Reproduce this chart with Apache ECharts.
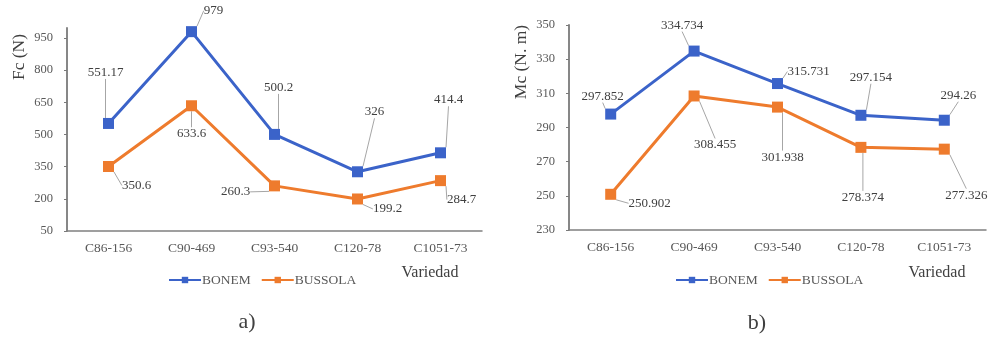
<!DOCTYPE html>
<html>
<head>
<meta charset="utf-8">
<script src="https://cdn.jsdelivr.net/npm/echarts@6/dist/echarts.min.js"></script>
<style>
  html, body { margin: 0; padding: 0; background: #fff; }
  #chart { width: 989px; height: 341px; }
</style>
</head>
<body>
<div id="chart"></div>
<script>
// Varieties on the horizontal axis of both panels
const varieties = ['C86-156', 'C90-469', 'C93-540', 'C120-78', 'C1051-73'];

// Panel a) cutting force Fc (N)
const fcBonem   = [551.17, 979, 500.2, 326, 414.4];
const fcBussola = [350.6, 633.6, 260.3, 199.2, 284.7];

// Panel b) cutting torque Mc (N. m)
const mcBonem   = [297.852, 334.734, 315.731, 297.154, 294.26];
const mcBussola = [250.902, 308.455, 301.938, 278.374, 277.326];

const seriesNames = ['BONEM', 'BUSSOLA'];

// Callout offsets of each value label from its marker (px)
const fcBonemOff   = [[-3, -51], [22, -21], [4, -47], [17, -60], [8, -53]];
const fcBussolaOff = [[28, 19], [0, 28], [-39, 6], [30, 10], [21, 19]];
const mcBonemOff   = [[-8, -18], [-12, -26], [31, -12], [10, -38], [14, -25]];
const mcBussolaOff = [[39, 9], [21, 49], [5, 50], [2, 50], [22, 46]];

const BLUE = '#3b63c9';
const ORANGE = '#ee7b2d';
const SERIF = '"Liberation Serif", "DejaVu Serif", serif';

const chart = echarts.init(document.getElementById('chart'));

function xAxisFor(gridIndex) {
  return {
    type: 'category',
    gridIndex,
    data: varieties,
    boundaryGap: true,
    axisLine: { lineStyle: { color: '#808080', width: 1.5 } },
    axisTick: { alignWithLabel: true, length: 3, lineStyle: { color: '#808080' } },
    axisLabel: { fontFamily: SERIF, fontSize: 13.5, color: '#595959', margin: 10 },
    splitLine: { show: false }
  };
}

function yAxisFor(gridIndex, min, max, interval) {
  return {
    type: 'value',
    gridIndex,
    min, max, interval,
    axisLine: { show: true, lineStyle: { color: '#7a7a7a', width: 1.8 } },
    axisTick: { show: true, length: 3, lineStyle: { color: '#7a7a7a' } },
    axisLabel: {
      fontFamily: SERIF, fontSize: 12.5, color: '#595959', margin: 14,
      showMaxLabel: max % interval === min % interval
    },
    splitLine: { show: false }
  };
}

function lineSeries(name, values, color, offsets, axisIndex) {
  return {
    name,
    type: 'line',
    xAxisIndex: axisIndex,
    yAxisIndex: axisIndex,
    data: values,
    symbol: 'rect',
    symbolSize: 11,
    lineStyle: { color, width: 3 },
    itemStyle: { color },
    label: {
      show: true,
      position: 'inside',
      fontFamily: SERIF,
      fontSize: 13,
      color: '#404040',
      formatter: p => String(p.value)
    },
    labelLine: { show: true, lineStyle: { color: '#a6a6a6', width: 1 } },
    labelLayout: p => ({ dx: offsets[p.dataIndex][0], dy: offsets[p.dataIndex][1] }),
    emphasis: { disabled: true },
    animation: false,
    z: name === 'BONEM' ? 3 : 2
  };
}

function legendFor(left) {
  return {
    data: seriesNames,
    left, top: 268,
    itemWidth: 32, itemHeight: 8, itemGap: 10,
    textStyle: { fontFamily: SERIF, fontSize: 13.5, color: '#595959', padding: [0, 0, 0, -4] }
  };
}

function txt(x, y, text, size, extra) {
  return Object.assign({
    type: 'text', x, y,
    style: {
      text, fontFamily: SERIF, fontSize: size, fill: '#404040',
      textAlign: 'center', textVerticalAlign: 'middle'
    }
  }, extra || {});
}

chart.setOption({
  backgroundColor: '#ffffff',
  color: [BLUE, ORANGE],
  grid: [
    { left: 67, right: 507, top: 28, bottom: 110 },
    { left: 569, right: 3, top: 25, bottom: 111 }
  ],
  xAxis: [xAxisFor(0), xAxisFor(1)],
  yAxis: [yAxisFor(0, 50, 996, 150), yAxisFor(1, 230, 350, 20)],
  legend: [legendFor(163), legendFor(670)],
  series: [
    lineSeries(seriesNames[0], fcBonem, BLUE, fcBonemOff, 0),
    lineSeries(seriesNames[1], fcBussola, ORANGE, fcBussolaOff, 0),
    lineSeries(seriesNames[0], mcBonem, BLUE, mcBonemOff, 1),
    lineSeries(seriesNames[1], mcBussola, ORANGE, mcBussolaOff, 1)
  ],
  graphic: [
    txt(19, 57, 'Fc (N)', 17.5, { rotation: Math.PI / 2 }),
    txt(521, 62, 'Mc (N. m)', 17.5, { rotation: Math.PI / 2 }),
    txt(430, 273, 'Variedad', 16),
    txt(937, 273, 'Variedad', 16),
    txt(247, 322, 'a)', 22),
    txt(757, 323, 'b)', 22)
  ]
});
</script>
</body>
</html>
